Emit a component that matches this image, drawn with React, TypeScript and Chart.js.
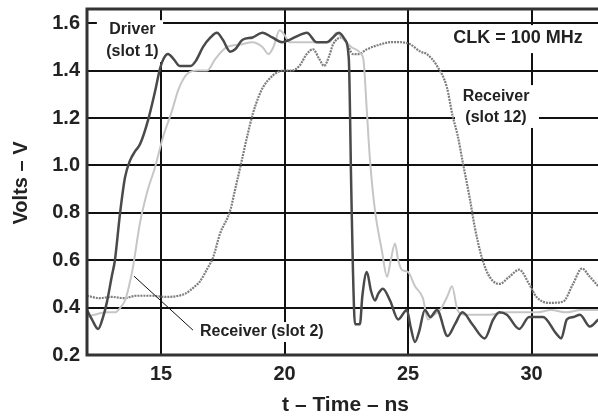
import React, { useEffect, useRef } from 'react';
import { Chart, registerables } from 'chart.js';

Chart.register(...registerables);

// ---- Data (time in ns, voltage in V) ----
const driverT = [12.0, 12.2, 12.45, 12.65, 12.8, 13.0, 13.13, 13.34, 13.54, 13.74, 13.95, 14.15, 14.47, 14.75, 14.96, 15.1, 15.28, 15.5, 15.75, 15.97, 16.2, 16.4, 16.7, 17.0, 17.26, 17.5, 17.8, 18.0, 18.3, 18.7, 19.1, 19.5, 19.9, 20.2, 20.6, 20.9, 21.3, 21.7, 21.96, 22.2, 22.45, 22.6, 22.7, 22.77, 22.85, 23.05, 23.15, 23.33, 23.5, 23.66, 23.8, 23.98, 24.27, 24.6, 24.95, 25.1, 25.28, 25.45, 25.68, 25.9, 26.17, 26.6, 26.9, 27.2, 27.6, 28.1, 28.45, 28.7, 29.0, 29.5, 29.9, 30.2, 30.46, 31.0, 31.2, 31.43, 31.7, 31.96, 32.36, 32.7];
const driverV = [0.39, 0.35, 0.31, 0.36, 0.42, 0.53, 0.6, 0.8, 0.95, 1.02, 1.06, 1.09, 1.19, 1.31, 1.41, 1.45, 1.47, 1.45, 1.42, 1.42, 1.42, 1.44, 1.5, 1.54, 1.56, 1.53, 1.48, 1.49, 1.53, 1.54, 1.56, 1.54, 1.52, 1.53, 1.55, 1.56, 1.52, 1.52, 1.54, 1.56, 1.53, 1.45, 0.9, 0.55, 0.33, 0.33, 0.45, 0.55, 0.47, 0.43, 0.46, 0.48, 0.43, 0.35, 0.39, 0.32, 0.255, 0.3, 0.39, 0.36, 0.39, 0.28, 0.33, 0.38, 0.33, 0.27, 0.35, 0.38, 0.37, 0.31, 0.36, 0.36, 0.36, 0.29, 0.27, 0.35, 0.36, 0.37, 0.32, 0.35];

const slot2T = [12.0, 12.3, 12.8, 13.13, 13.35, 13.54, 13.7, 13.86, 14.15, 14.47, 14.75, 15.08, 15.44, 15.7, 16.1, 16.5, 16.86, 17.2, 17.67, 18.2, 18.7, 19.1, 19.35, 19.55, 19.8, 20.0, 20.2, 20.6, 21.2, 21.8, 22.1, 22.4, 22.7, 23.1, 23.2, 23.33, 23.46, 23.66, 23.94, 24.15, 24.3, 24.47, 24.6, 24.75, 25.0, 25.28, 25.6, 25.8, 26.05, 26.3, 26.6, 26.78, 27.0, 27.3, 27.6, 28.3, 29.0, 29.6, 30.2, 30.8, 31.4, 32.0, 32.7];
const slot2V = [0.36, 0.37, 0.38, 0.38, 0.4, 0.43, 0.49, 0.57, 0.76, 0.9, 0.99, 1.12, 1.23, 1.32, 1.39, 1.4, 1.4, 1.45, 1.5, 1.51, 1.52, 1.5, 1.47, 1.5, 1.57, 1.55, 1.52, 1.52, 1.52, 1.52, 1.56, 1.53, 1.5, 1.47, 1.44, 1.23, 1.02, 0.81, 0.64, 0.53, 0.6, 0.67, 0.6, 0.56, 0.55, 0.49, 0.44, 0.35, 0.37, 0.39, 0.45, 0.49, 0.39, 0.37, 0.37, 0.37, 0.38, 0.38, 0.38, 0.39, 0.38, 0.39, 0.39];

const slot12T = [12.0, 12.5, 13.0, 13.5, 14.0, 14.6, 15.2, 15.7, 16.0, 16.37, 16.57, 16.9, 17.1, 17.38, 17.8, 18.0, 18.2, 18.48, 18.72, 18.95, 19.13, 19.53, 19.94, 20.3, 20.6, 20.9, 21.15, 21.4, 21.6, 21.8, 21.96, 22.3, 22.5, 22.77, 23.0, 23.33, 23.86, 24.3, 24.67, 25.1, 25.5, 25.76, 26.17, 26.57, 26.8, 27.0, 27.22, 27.5, 27.7, 27.99, 28.3, 28.7, 29.1, 29.5, 29.9, 30.2, 30.7, 31.27, 31.68, 32.04, 32.36, 32.7];
const slot12V = [0.45, 0.44, 0.445, 0.44, 0.45, 0.45, 0.445, 0.45, 0.46, 0.49, 0.51, 0.57, 0.61, 0.71, 0.81, 0.9, 0.99, 1.12, 1.22, 1.29, 1.33, 1.38, 1.4, 1.4, 1.42, 1.47, 1.49, 1.45, 1.42, 1.46, 1.51, 1.54, 1.52, 1.47, 1.47, 1.49, 1.51, 1.52, 1.52, 1.51, 1.48, 1.47, 1.42, 1.33, 1.21, 1.13, 1.01, 0.86, 0.74, 0.61, 0.53, 0.5, 0.53, 0.56, 0.5, 0.445, 0.42, 0.425, 0.5, 0.565, 0.53, 0.49];

const xTicks = [15, 20, 25, 30];
const yTicks = [0.2, 0.4, 0.6, 0.8, 1.0, 1.2, 1.4, 1.6];
const xTitle = 't – Time – ns';
const yTitle = 'Volts – V';

const FONT = '"Liberation Sans", Arial, Helvetica, sans-serif';
const INK = '#222222';

type Label = {
  lines: string[];
  t: number;
  v: number;
  align: CanvasTextAlign;
  size: number;
  gap: number;
  box: [number, number, number, number];
};

const labels: Label[] = [
  { lines: ['Driver', '(slot 1)'], t: 13.84, v: 1.575, align: 'center', size: 16, gap: 22, box: [12.4, 15.08, 1.613, 1.436] },
  { lines: ['CLK = 100 MHz'], t: 29.45, v: 1.538, align: 'center', size: 18, gap: 0, box: [26.57, 32.36, 1.592, 1.474] },
  { lines: ['Receiver', '(slot 12)'], t: 28.56, v: 1.289, align: 'center', size: 16, gap: 21, box: [26.9, 30.3, 1.339, 1.158] },
  { lines: ['Receiver (slot 2)'], t: 16.575, v: 0.297, align: 'left', size: 16, gap: 0, box: [16.41, 21.68, 0.339, 0.255] },
];
const leader = { t0: 13.9, v0: 0.533, t1: 16.29, v1: 0.305 };

const toPts = (t: number[], v: number[]) => t.map((x, i) => ({ x, y: v[i] }));

export default function App() {
  const ref = useRef<HTMLCanvasElement>(null);

  useEffect(() => {
    const canvas = ref.current;
    if (!canvas) return;

    const annot = {
      id: 'annot',
      beforeDatasetsDraw(chart: any) {
        const { ctx, scales } = chart;
        const xs = scales.x, ys = scales.y;
        ctx.save();
        ctx.fillStyle = '#ffffff';
        labels.forEach((l) => {
          const x0 = xs.getPixelForValue(l.box[0]);
          const x1 = xs.getPixelForValue(l.box[1]);
          const y0 = ys.getPixelForValue(l.box[2]);
          const y1 = ys.getPixelForValue(l.box[3]);
          ctx.fillRect(x0, y0, x1 - x0, y1 - y0);
        });
        ctx.restore();
      },
      afterDatasetsDraw(chart: any) {
        const { ctx, scales, chartArea } = chart;
        const xs = scales.x, ys = scales.y;
        ctx.save();
        // frame: left, top, bottom
        ctx.strokeStyle = '#333333';
        ctx.lineWidth = 3;
        ctx.beginPath();
        ctx.moveTo(chartArea.right + 2, chartArea.top);
        ctx.lineTo(chartArea.left, chartArea.top);
        ctx.lineTo(chartArea.left, chartArea.bottom);
        ctx.lineTo(chartArea.right + 2, chartArea.bottom);
        ctx.stroke();

        // leader line
        ctx.strokeStyle = '#111111';
        ctx.lineWidth = 1;
        ctx.beginPath();
        ctx.moveTo(xs.getPixelForValue(leader.t0), ys.getPixelForValue(leader.v0));
        ctx.lineTo(xs.getPixelForValue(leader.t1), ys.getPixelForValue(leader.v1));
        ctx.stroke();

        // labels
        ctx.fillStyle = INK;
        ctx.textBaseline = 'middle';
        labels.forEach((l) => {
          ctx.font = `bold ${l.size}px ${FONT}`;
          ctx.textAlign = l.align;
          const x = xs.getPixelForValue(l.t);
          const y = ys.getPixelForValue(l.v);
          l.lines.forEach((s, i) => ctx.fillText(s, x, y + i * l.gap));
        });

        // axis titles
        ctx.font = `bold 21px ${FONT}`;
        ctx.textAlign = 'center';
        ctx.fillText(xTitle, (chartArea.left + chartArea.right) / 2 + 3, 405);
        ctx.save();
        ctx.translate(21, (chartArea.top + chartArea.bottom) / 2 + 1);
        ctx.rotate(-Math.PI / 2);
        ctx.font = `bold 20px ${FONT}`;
        ctx.fillText(yTitle, 0, 0);
        ctx.restore();
        ctx.restore();
      },
    };

    const tickFont = { family: FONT, size: 20, weight: 'bold' as const };

    const chart = new Chart(canvas, {
      type: 'scatter',
      data: {
        datasets: [
          {
            label: 'Driver (slot 1)',
            data: toPts(driverT, driverV),
            showLine: true,
            borderColor: '#4a4a4a',
            borderWidth: 2.5,
            pointRadius: 0,
            cubicInterpolationMode: 'monotone',
          },
          {
            label: 'Receiver (slot 2)',
            data: toPts(slot2T, slot2V),
            showLine: true,
            borderColor: '#c6c6c6',
            borderWidth: 2,
            pointRadius: 0,
            cubicInterpolationMode: 'monotone',
          },
          {
            label: 'Receiver (slot 12)',
            data: toPts(slot12T, slot12V),
            showLine: true,
            borderColor: '#7e7e7e',
            borderWidth: 2.2,
            borderDash: [2, 1],
            pointRadius: 0,
            cubicInterpolationMode: 'monotone',
          },
        ],
      },
      options: {
        responsive: false,
        animation: false,
        layout: { padding: { top: 9, left: 0, right: 0, bottom: 0 } },
        plugins: { legend: { display: false }, tooltip: { enabled: false } },
        scales: {
          x: {
            type: 'linear',
            min: 12,
            max: 32.69,
            afterBuildTicks: (s: any) => {
              s.ticks = xTicks.map((value) => ({ value }));
            },
            afterFit: (s: any) => {
              s.height = 61;
              s.paddingLeft = 0;
              s.paddingRight = 0;
            },
            ticks: { font: tickFont, color: INK, padding: 7, maxRotation: 0, autoSkip: false },
            grid: { color: '#111111', lineWidth: 2, drawTicks: false },
            border: { display: false },
          },
          y: {
            type: 'linear',
            min: 0.2,
            max: 1.66,
            afterBuildTicks: (s: any) => {
              s.ticks = yTicks.map((value) => ({ value }));
            },
            afterFit: (s: any) => {
              s.width = 87;
              s.paddingTop = 0;
              s.paddingBottom = 0;
            },
            ticks: {
              font: tickFont,
              color: INK,
              padding: 7,
              autoSkip: false,
              callback: (v: any) => Number(v).toFixed(1),
            },
            grid: { color: '#111111', lineWidth: 2, drawTicks: false },
            border: { display: false },
          },
        },
      },
      plugins: [annot],
    });

    return () => chart.destroy();
  }, []);

  return (
    <div style={{ position: 'fixed', left: 0, top: 0, width: 598, height: 416, background: '#ffffff' }}>
      <canvas ref={ref} width={598} height={416} style={{ display: 'block' }} />
    </div>
  );
}
